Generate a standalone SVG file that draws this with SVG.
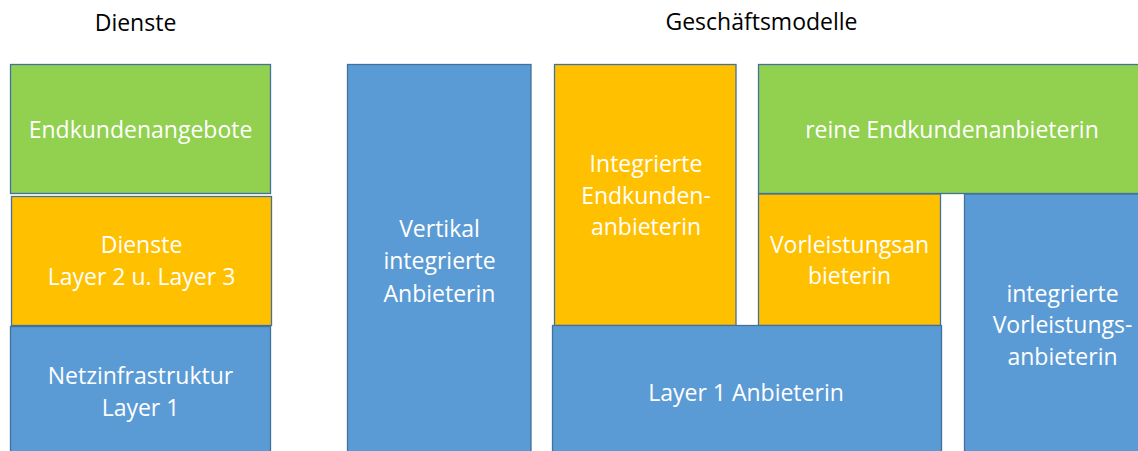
<svg xmlns="http://www.w3.org/2000/svg" width="1138" height="451" viewBox="0 0 1138 451">
  <style>
    .box { stroke: #41719C; stroke-width: 1.3; }
    .green { fill: #92D050; }
    .orange { fill: #FFC000; }
    .blue { fill: #5B9BD5; }
    text { font-family: "Open Sans", "Liberation Sans", sans-serif; font-size: 23px; text-anchor: middle; }
    .lbl { fill: #FFFFFF; }
    .head { fill: #000000; }
  </style>
  <rect width="1138" height="451" fill="#FFFFFF"/>

  <!-- column headings -->
  <g id="heading-dienste">
    <text class="head" x="135.5" y="31">Dienste</text>
  </g>
  <g id="heading-geschaeftsmodelle">
    <text class="head" x="761.5" y="30">Geschäftsmodelle</text>
  </g>

  <!-- service layers -->
  <g id="endkundenangebote">
    <rect class="box green" x="10.5" y="64.5" width="260" height="129"/>
    <text class="lbl" x="140.5" y="138">Endkundenangebote</text>
  </g>
  <g id="dienste-layer23">
    <rect class="box orange" x="11.5" y="196.5" width="260" height="129"/>
    <text class="lbl" x="141.5" y="253">Dienste</text>
    <text class="lbl" x="141.5" y="285">Layer 2 u. Layer 3</text>
  </g>
  <g id="netzinfrastruktur">
    <rect class="box blue" x="10.5" y="326.5" width="260" height="140"/>
    <text class="lbl" x="140.5" y="383.5">Netzinfrastruktur</text>
    <text class="lbl" x="140.5" y="415.5">Layer 1</text>
  </g>

  <!-- business models -->
  <g id="vertikal-integriert">
    <rect class="box blue" x="347.5" y="64.5" width="183.5" height="400"/>
    <text class="lbl" x="439.5" y="237">Vertikal</text>
    <text class="lbl" x="439.5" y="269">integrierte</text>
    <text class="lbl" x="439.5" y="301.5">Anbieterin</text>
  </g>
  <g id="integrierte-endkundenanbieterin">
    <rect class="box orange" x="554.5" y="64.5" width="181.5" height="261"/>
    <text class="lbl" x="646" y="172">Integrierte</text>
    <text class="lbl" x="646" y="203.5">Endkunden-</text>
    <text class="lbl" x="646" y="235">anbieterin</text>
  </g>
  <g id="reine-endkundenanbieterin">
    <rect class="box green" x="758.5" y="64.5" width="400" height="129"/>
    <text class="lbl" x="952" y="138">reine Endkundenanbieterin</text>
  </g>
  <g id="vorleistungsanbieterin">
    <rect class="box orange" x="758.5" y="194" width="182" height="131.5"/>
    <text class="lbl" x="849.5" y="252.5">Vorleistungsan</text>
    <text class="lbl" x="849.5" y="284">bieterin</text>
  </g>
  <g id="integrierte-vorleistungsanbieterin">
    <rect class="box blue" x="964.5" y="194" width="200" height="270"/>
    <text class="lbl" x="1062.5" y="301.5">integrierte</text>
    <text class="lbl" x="1062.5" y="333">Vorleistungs-</text>
    <text class="lbl" x="1062.5" y="365">anbieterin</text>
  </g>
  <g id="layer1-anbieterin">
    <rect class="box blue" x="552.5" y="325.5" width="389" height="140"/>
    <text class="lbl" x="746" y="400.5">Layer 1 Anbieterin</text>
  </g>

  <!-- no connectors in this diagram -->
  <g id="connectors"/>
</svg>
